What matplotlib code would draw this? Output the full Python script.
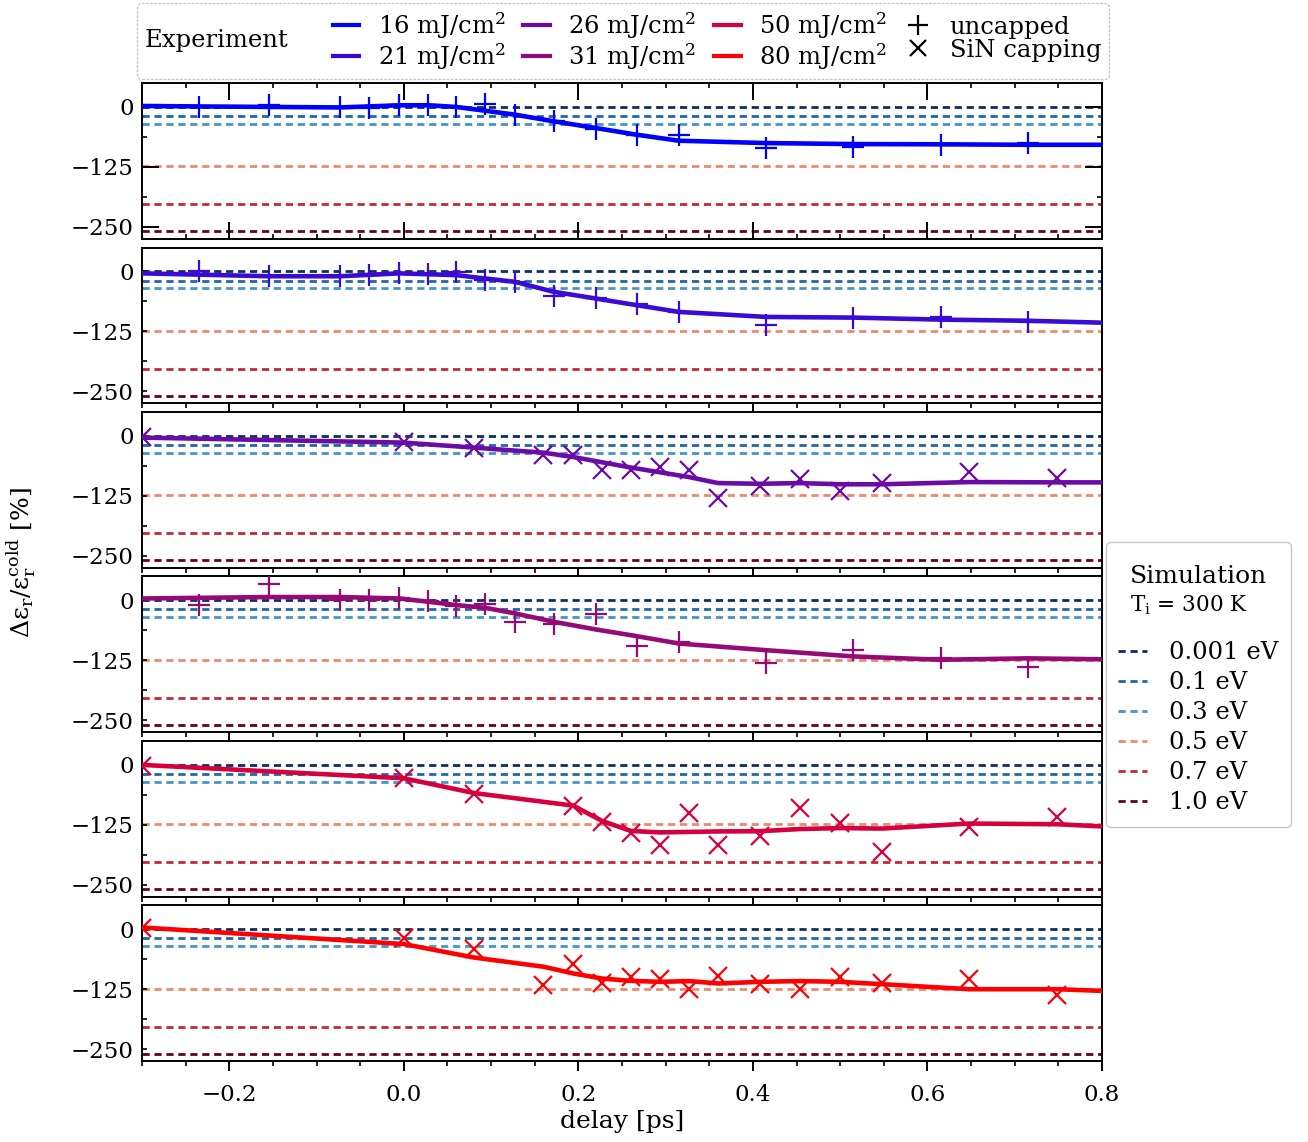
import matplotlib
matplotlib.use('Agg')
from matplotlib import pyplot as plt
from matplotlib.lines import Line2D
from matplotlib.offsetbox import HPacker, VPacker, TextArea, DrawingArea
from matplotlib.ticker import MultipleLocator, AutoMinorLocator

plt.rcParams['font.family'] = ['DejaVu Serif']
plt.rcParams['mathtext.fontset'] = 'dejavuserif'

# experiment: fluences, colours, capping
fluences = ['16 mJ/cm$^2$', '21 mJ/cm$^2$', '26 mJ/cm$^2$', '31 mJ/cm$^2$', '50 mJ/cm$^2$', '80 mJ/cm$^2$']
exp_colors = ['#0000ff', '#3a0ad6', '#6c0aa8', '#960a78', '#d6003c', '#ff0000']
capped = [False, False, True, False, True, True]

# delays of the measured points
x_uncapped = [-0.235, -0.155, -0.073, -0.04, -0.005, 0.028, 0.06, 0.093, 0.127,
              0.172, 0.22, 0.267, 0.315, 0.415, 0.515, 0.615, 0.715]
x_capped = [-0.3, 0.0, 0.08, 0.16, 0.194, 0.227, 0.26, 0.294, 0.327, 0.36,
            0.408, 0.454, 0.5, 0.548, 0.648, 0.749]
x_capped_50 = [-0.3, 0.0, 0.08, 0.194, 0.227, 0.26, 0.294, 0.327, 0.36,
               0.408, 0.454, 0.5, 0.548, 0.648, 0.749]

# measured values [%]
y16 = [0, 4, 0, -3, 3.5, 3.5, -0.7, 7, -16, -30, -46, -58, -58, -86.6, -84.5, -79, -75.4]
y21 = [1.4, -9.8, -9.8, -7, -2.8, -5.6, -0.7, -18, -21.6, -51.7, -55, -69, -84.5, -111.7, -96.4, -95, -106]
y26 = [-2, -12.6, -24.4, -40.5, -40.5, -70.5, -70.5, -65, -70.5, -129, -105.4, -89.4, -116, -98.5, -75.4, -88]
y31 = [-9.8, 33.5, 0.7, 0.7, 4.2, -0.7, -12.6, -8.4, -45.4, -49, -28.6, -95, -86.6, -130, -104, -119.4, -140]
y50 = [-1.4, -28, -60.8, -85, -120, -143, -167.6, -100.6, -167.6, -149.4, -90.8, -121.5, -181.6, -130.6, -109.6]
y80 = [2, -18.9, -41, -116.6, -72.6, -111, -98.5, -102.7, -123.6, -97, -114.5, -125, -98.5, -112.4, -104, -137.6]

# model curves through the data
lx16 = [-0.3, -0.073, -0.005, 0.028, 0.06, 0.127, 0.172, 0.22, 0.267, 0.315, 0.415, 0.515, 0.615, 0.715, 0.8]
ly16 = [2, -1, 3.5, 3.5, 0, -16, -30, -44, -58, -70.5, -75.4, -77.5, -78, -79, -79]
lx21 = [-0.3, -0.155, -0.073, -0.005, 0.06, 0.093, 0.127, 0.172, 0.22, 0.267, 0.315, 0.415, 0.515, 0.615, 0.715, 0.8]
ly21 = [-4, -10, -10, -4, -7.7, -14.7, -21.6, -42.6, -56.6, -70.5, -84.5, -95, -96.4, -100.6, -103, -107]
lx26 = [-0.3, 0.0, 0.08, 0.16, 0.194, 0.26, 0.327, 0.36, 0.408, 0.454, 0.5, 0.548, 0.648, 0.749, 0.8]
ly26 = [-3.5, -14, -24.4, -35, -44, -66, -86, -98.5, -100, -98.5, -101, -101, -96.4, -97, -97]
lx31 = [-0.3, -0.155, -0.073, -0.005, 0.028, 0.06, 0.093, 0.127, 0.172, 0.22, 0.267, 0.315, 0.415, 0.515, 0.615, 0.715, 0.8]
ly31 = [4, 7, 7, 4, -2.8, -9.8, -15.4, -27, -44.7, -60.7, -74.7, -90, -104, -117, -124, -121, -123]
lx50 = [-0.3, 0.0, 0.08, 0.194, 0.227, 0.26, 0.294, 0.36, 0.408, 0.454, 0.5, 0.548, 0.648, 0.749, 0.8]
ly50 = [0, -28, -58.7, -85, -117, -138, -141, -139, -138.5, -134, -132, -133, -122.5, -124, -128.5]
lx80 = [-0.3, 0.0, 0.08, 0.16, 0.194, 0.227, 0.26, 0.294, 0.327, 0.36, 0.408, 0.454, 0.5, 0.548, 0.648, 0.749, 0.8]
ly80 = [4, -30.7, -58.7, -78, -92, -102.7, -107.5, -109.6, -108, -113, -109.6, -108, -109.6, -114.5, -125, -125, -128.5]

# simulation levels
sim_labels = ['0.001 eV', '0.1 eV', '0.3 eV', '0.5 eV', '0.7 eV', '1.0 eV']
sim_levels = [0, -19, -35, -124, -203, -260]
sim_colors = ['#0b3060', '#2166ac', '#4695c8', '#ec8a6c', '#c22a33', '#67001f']

xs = [x_uncapped, x_uncapped, x_capped, x_uncapped, x_capped_50, x_capped]
ys = [y16, y21, y26, y31, y50, y80]
lxs = [lx16, lx21, lx26, lx31, lx50, lx80]
lys = [ly16, ly21, ly26, ly31, ly50, ly80]

fig = plt.figure(figsize=(13.08, 11.42), dpi=100)
axes = fig.subplots(6, 1, sharex=True)
fig.subplots_adjust(left=0.1086, right=0.8425, top=0.9273, bottom=0.0709, hspace=0.057)

for i, ax in enumerate(axes):
    for lev, col in zip(sim_levels, sim_colors):
        ax.axhline(lev, color=col, lw=2, linestyle=(0, (2.6, 1.7)), zorder=1)
    ax.plot(lxs[i], lys[i], color=exp_colors[i], lw=3.3, zorder=3)
    if capped[i]:
        ax.plot(xs[i], ys[i], 'x', color=exp_colors[i], ms=13, mew=1.6, zorder=4)
    else:
        ax.plot(xs[i], ys[i], '+', color=exp_colors[i], ms=16, mew=1.6, zorder=4)
    ax.set_xlim(-0.3, 0.8)
    ax.set_ylim(-275, 50)
    ax.set_yticks([0, -125, -250])
    ax.xaxis.set_major_locator(MultipleLocator(0.2))
    ax.xaxis.set_minor_locator(MultipleLocator(0.05))
    ax.yaxis.set_minor_locator(AutoMinorLocator(2))
    ax.tick_params(labelsize=16.5, width=1.4, pad=6)
    ax.tick_params(axis='x', which='major', length=7.5, pad=9)
    ax.tick_params(axis='x', which='minor', length=3.5, width=1.2)
    ax.tick_params(axis='y', which='both', direction='in', length=3.5, width=1.2)
    for s in ax.spines.values():
        s.set_linewidth(1.4)

# first panel has its ticks inside
axes[0].tick_params(which='both', direction='in', top=True, right=True)
axes[0].tick_params(which='major', length=12, width=1.4)

axes[-1].set_xlabel('delay [ps]', fontsize=18, labelpad=3)
fig.text(21 / 1308, 1 - 563 / 1142, r'Δε$_\mathrm{r}$/ε$_\mathrm{r}^\mathrm{cold}$ [%]',
         rotation=90, ha='center', va='center', fontsize=18)

# experiment legend, title on the left
exp_handles = [Line2D([], [], color=c, lw=3) for c in exp_colors]
exp_handles += [Line2D([], [], color='k', marker='+', ls='none', ms=14, mew=1.6),
                Line2D([], [], color='k', marker='x', ls='none', ms=12, mew=1.6)]
exp_labels = fluences + ['uncapped', 'SiN capping']
leg1 = fig.legend(exp_handles, exp_labels, ncol=4, loc='upper center',
                  bbox_to_anchor=(623 / 1308, 1 - 3 / 1142), title='Experiment',
                  fontsize=17.5, title_fontsize=17.5, handlelength=1.1, handletextpad=0.75,
                  columnspacing=0.75, labelspacing=0.0, borderaxespad=0, borderpad=0.3,
                  framealpha=1, edgecolor='0.78')
old = leg1._legend_box
new = HPacker(pad=old.pad, sep=32, align='center', children=old.get_children())
new.set_figure(fig)
leg1._legend_box = new
new.set_offset(leg1._findoffset)
leg1.get_frame().set_linestyle((0, (2, 1)))

# simulation legend
sim_handles = [Line2D([], [], color=c, lw=2, linestyle=(0, (2.6, 1.7))) for c in sim_colors]
leg2 = fig.legend(sim_handles, sim_labels, loc='upper left',
                  bbox_to_anchor=(1106 / 1308, 1 - 542 / 1142), title='Simulation',
                  fontsize=17.5, title_fontsize=18, handlelength=1.2, handletextpad=0.9,
                  labelspacing=0.29, borderaxespad=0, borderpad=0.5,
                  framealpha=1, edgecolor='0.78')
sub = TextArea(r'T$_\mathrm{i}$ = 300 K', textprops=dict(fontsize=15.5))
top_gap = DrawingArea(1, 4)
spacer = DrawingArea(1, 8)
tbox = VPacker(pad=0, sep=4, align='left', children=[top_gap, leg2._legend_title_box, sub, spacer])
leg2._legend_box.get_children()[0] = tbox
leg2._legend_box.set_figure(fig)

fig.savefig('out.png', dpi=100)
plt.close(fig)
